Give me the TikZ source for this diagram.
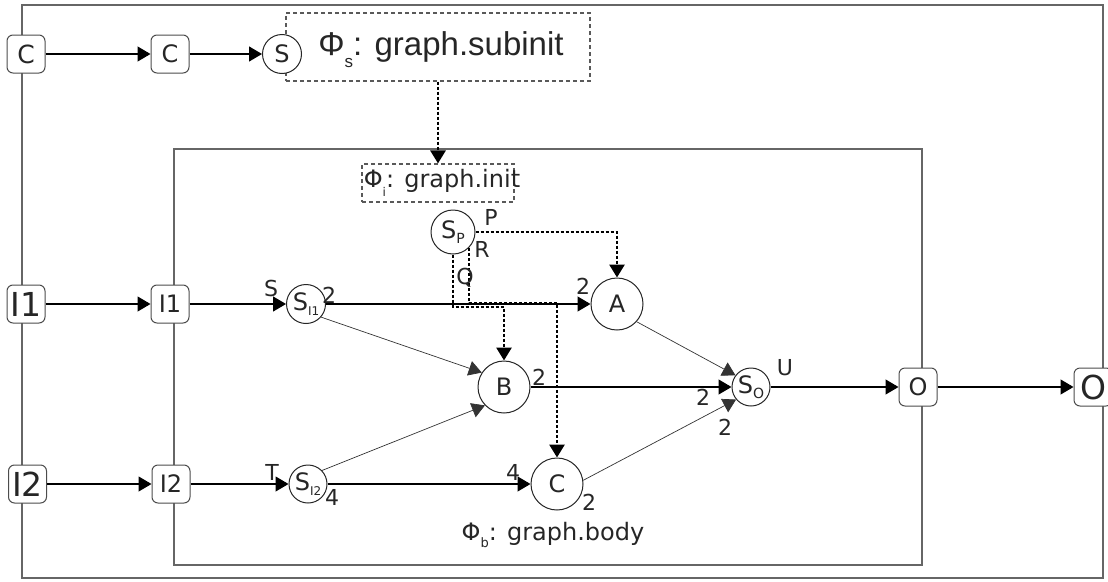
\documentclass[tikz,border=0pt]{standalone}
\usepackage{fontspec}
\usepackage{graphicx}
\setmainfont{DejaVu Sans}
\newfontfamily\titlefont{Liberation Sans}
\usetikzlibrary{arrows.meta}
% lowered small subscript: drop (pt), size (pt), text
\newcommand\lowsub[3]{\raisebox{-#1pt}{\fontsize{#2}{#2}\selectfont #3}}

\begin{document}
\begin{tikzpicture}[x=1pt,y=-1pt,
  arr/.style={-{Triangle[length=13pt,width=15pt]}},
  port/.style={draw=black!70, line width=1pt, rounded corners=6pt,
    minimum width=38pt, minimum height=38pt, inner sep=0pt, fill=white,
    text=black!85, font=\fontsize{24}{24}\selectfont},
  bigport/.style={port, font=\fontsize{33}{33}\selectfont},
  sym/.style={draw=black!85, line width=1pt, circle, inner sep=0pt, fill=white,
    text=black!85, font=\fontsize{24}{24}\selectfont},
  border/.style={draw=black!60, line width=1.3pt},
  phase/.style={draw=black!65, dash pattern=on 4pt off 3pt, line width=1.1pt},
  flow/.style={arr, line width=1.2pt},
  side/.style={arr, line width=0.7pt, draw=black!80},
  ctl/.style={arr, line width=2.8pt, dash pattern=on 3pt off 2pt},
  lbl/.style={inner sep=0pt, text=black!85, font=\fontsize{22}{22}\selectfont},
  caption/.style={inner sep=0pt, anchor=base, text=black!85},
]
\useasboundingbox (0,0) rectangle (1108,581);

% frames: outer graph and inner body
\draw[border] (22,5) rectangle (1103,578);
\draw[border] (174,149) rectangle (922,565);

% phase boxes
\node[phase, minimum width=304pt, minimum height=68pt, inner sep=0pt] (sub) at (438,47) {};
\node[caption, font=\titlefont\fontsize{33}{33}\selectfont] (subtxt) at (441,55) {Φ\lowsub{12}{17}{s}: graph.subinit};
\node[phase, minimum width=152pt, minimum height=38pt, inner sep=0pt] (init) at (438,183) {};
\node[caption, font=\fontsize{24}{24}\selectfont] (inittxt) at (442,187) {Φ\lowsub{9}{12}{i}: graph.init};
\node[caption, font=\fontsize{24}{24}\selectfont] (bodytxt) at (553,540) {Φ\lowsub{7}{13}{b}: graph.body};

% ports
\node[port, font=\fontsize{25}{25}\selectfont] (cOut) at (26,54) {C};
\node[port] (cIn) at (170,54) {C};
\node[bigport] (i1Out) at (26,304) {I1};
\node[port] (i1In) at (170,304) {I1};
\node[bigport] (i2Out) at (27.5,484) {I2};
\node[port] (i2In) at (171,484) {I2};
\node[port] (oIn) at (918,387) {O};
\node[bigport] (oOut) at (1093,387) {O};

% places
\node[sym, minimum size=39pt] (sTop) at (282,54) {S};
\node[sym, minimum size=44pt] (sP) at (453,232) {S\lowsub{5}{14}{P}};
\node[sym, minimum size=39pt] (sI1) at (306,304) {S\lowsub{5}{12}{I1}};
\node[sym, minimum size=38pt] (sI2) at (308,484) {S\lowsub{5}{12}{I2}};
\node[sym, minimum size=52pt] (A) at (617,304) {A};
\node[sym, minimum size=52pt] (B) at (504,387) {B};
\node[sym, minimum size=52pt] (C) at (557,484) {C};
\node[sym, minimum size=38pt] (sO) at (751,387) {S\lowsub{5}{14}{O}};

% data flow
\draw[flow] (cOut) -- (cIn);
\draw[flow] (cIn) -- (sTop);
\draw[flow] (i1Out) -- (i1In);
\draw[flow] (i1In) -- (sI1);
\draw[flow] (sI1.east) -- (A.west);
\draw[flow] (i2Out) -- (i2In);
\draw[flow] (i2In) -- (sI2);
\draw[flow] (sI2.east) -- (C.west);
\draw[flow] (B.east) -- (sO.west);
\draw[flow] (sO) -- (oIn);
\draw[flow] (oIn) -- (oOut);
\draw[side] (sI1.-41) -- (B.147);
\draw[side] (sI2.44) -- (B.-136);
\draw[side] (A.-42) -- (sO.143);
\draw[side] (C.8) -- (sO.-140);

% control flow
\coordinate (rTurn) at (557,303);
\coordinate (qTurn) at (504,307);
\draw[ctl] (sub.south) -- (init.north);
\draw[ctl] (sP.east) -| (A.north);
\draw[ctl] (sP.-45) |- (rTurn) -- (C.north);
\draw[ctl] (sP.south) |- (qTurn) -- (B.north);

% labels
\node[lbl] (lP) at (491,217) {P};
\node[lbl] (lR) at (482,249) {R};
\node[lbl] (lQ) at (465,278) {Q};
\node[lbl] (lS) at (271,288) {S};
\node[lbl] (lI1) at (329,295) {2};
\node[lbl] (lA) at (583,286) {2};
\node[lbl] (lB) at (539,377) {2};
\node[lbl] (lOb) at (703,397) {2};
\node[lbl] (lOc) at (725,427) {2};
\node[lbl] (lU) at (785,368) {U};
\node[lbl] (lT) at (272,472) {T};
\node[lbl] (lI2) at (332,497) {4};
\node[lbl] (lCin) at (513,472) {4};
\node[lbl] (lC) at (589,502) {2};
\end{tikzpicture}
\end{document}
